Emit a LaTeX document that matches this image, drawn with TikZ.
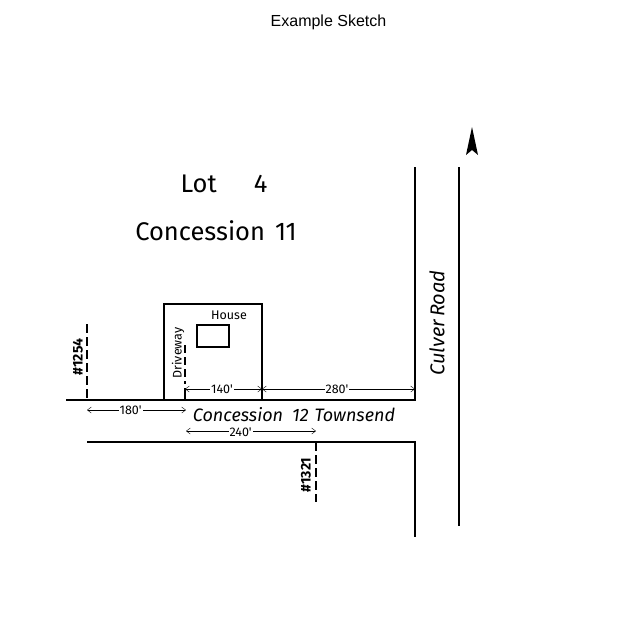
\documentclass[tikz,border=0pt]{standalone}
\usepackage{fontspec}
\usetikzlibrary{arrows.meta}
\setmainfont{Liberation Sans}
\newfontfamily\sketchfont{Fira Sans}
\tikzset{
	road/.style={line width=1.5pt},
	lotline/.style={line width=2pt},
	stake/.style={line width=1.8pt,dash pattern=on 9pt off 4pt},
	dim/.style={thin,{Straight Barb[length=4pt,width=6pt]}-{Straight Barb[length=4pt,width=6pt]}},
	dimlabel/.style={fill=white,inner sep=1pt,font=\sketchfont\fontsize{12.5}{14}\selectfont},
	sketchlabel/.style={inner sep=0pt,font=\sketchfont\fontsize{12.5}{15}\selectfont},
	stakelabel/.style={inner sep=0pt,rotate=90,font=\sketchfont\bfseries\fontsize{14}{16}\selectfont},
	roadname/.style={inner sep=0pt,font=\sketchfont\itshape\fontsize{18}{21}\selectfont},
	lotname/.style={inner sep=0pt,font=\sketchfont\fontsize{25.5}{29}\selectfont}
}
\begin{document}
\begin{tikzpicture}[x=1pt,y=-1pt]
	\useasboundingbox (0,0) rectangle (620,616);
	\node (title) at (328.5,22) {\fontsize{16}{19}\selectfont Example Sketch};
	\node[lotname] (lot) at (224,184) {Lot\hspace{37pt}4};
	\node[lotname] (concession) at (216,231) {Concession\hspace{10pt}11};
	% roads
	\draw[road] (66,400) -- (415,400) -- (415,167);
	\draw[road] (87,442) -- (415,442) -- (415,537);
	\draw[road] (459,167) -- (459,526);
	\node[roadname] (townsend) at (294,415) {Concession\hspace{9pt}12\hspace{6pt}Townsend};
	\node[roadname,rotate=90,font=\sketchfont\itshape\fontsize{20}{23}\selectfont] (culver) at (437,323) {Culver\hspace{3pt}Road};
	% lot and house
	\draw[lotline] (164,400) |- (262,304) -- (262,400);
	\draw[lotline] (197,325) rectangle (229,347);
	\node[sketchlabel] (house) at (229,315) {House};
	\node[sketchlabel,rotate=90] (driveway) at (178,353) {Driveway};
	\draw[stake,line width=1.5pt,dash pattern=on 8pt off 4pt] (185,345) -- (185,384);
	\draw[road] (185,388) -- (185,400);
	% stakes
	\draw[stake] (87,324) -- (87,400);
	\node[stakelabel] (lotleft) at (78,357) {\#1254};
	\draw[stake] (316,442) -- (316,502);
	\node[stakelabel] (lotright) at (306,475) {\#1321};
	% distances
	\draw[dim] (185,389) -- (262,389) node[dimlabel,pos=.48] {140'};
	\draw[dim] (262,389) -- (415,389) node[dimlabel,pos=.49] {280'};
	\draw[dim] (87,410) -- (186,410) node[dimlabel,pos=.44] {180'};
	\draw[dim] (186,431) -- (316,431) node[dimlabel,pos=.42,yshift=-1pt] {240'};
	% north arrow
	\fill (472,127) -- (478,155) -- (472,150) -- (466,155) -- cycle;
\end{tikzpicture}
\end{document}
